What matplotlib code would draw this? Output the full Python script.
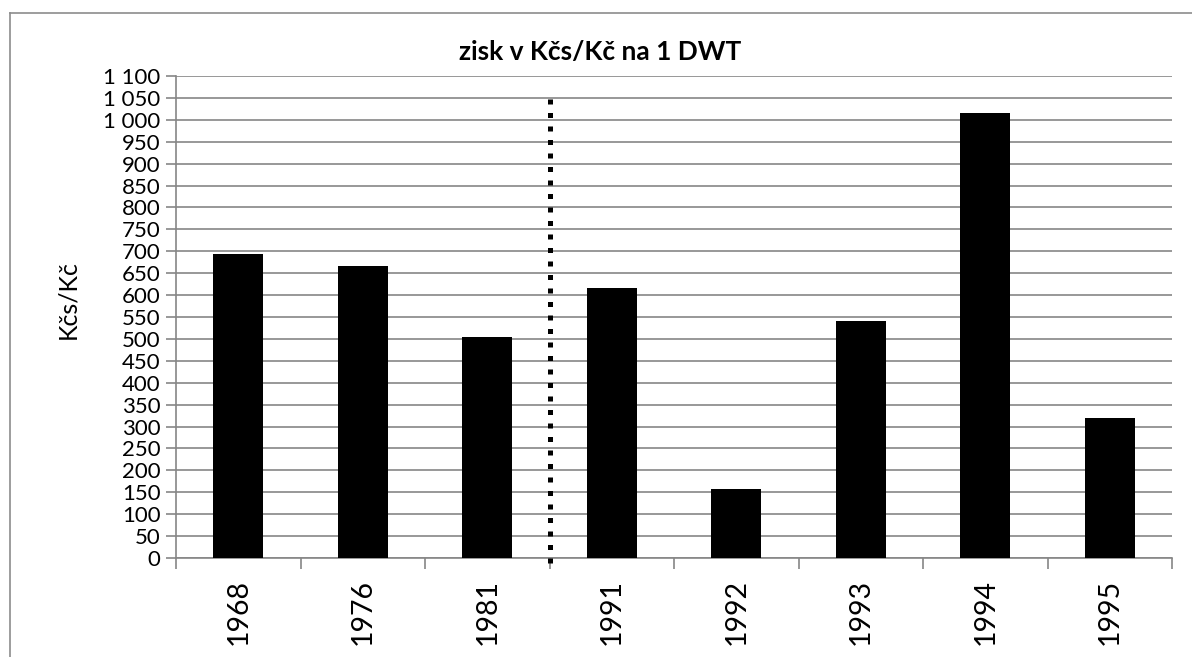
import matplotlib
matplotlib.use("Agg")
import matplotlib.pyplot as plt
from matplotlib.ticker import FuncFormatter
from matplotlib.lines import Line2D

# data
years = ["1968", "1976", "1981", "1991", "1992", "1993", "1994", "1995"]
profit = [694, 666, 504, 616, 157, 541, 1016, 320]
y_ticks = list(range(0, 1101, 50))

title = "zisk v Kčs/Kč na 1 DWT"
y_label = "Kčs/Kč"

plt.rcParams['font.family'] = ['Lato', 'DejaVu Sans']
grey = '#868686'

fig = plt.figure(figsize=(11.92, 6.57), dpi=100)
ax = fig.add_axes([176 / 1192, 1 - 558 / 657, (1172 - 176) / 1192, (558 - 76) / 657])

x = list(range(len(years)))
ax.bar(x, profit, width=0.4, color='black', zorder=3)

ax.set_xlim(-0.5, len(years) - 0.5)
ax.set_ylim(0, 1100)

# y axis: ticks every 50, space as thousands separator
ax.set_yticks(y_ticks)
ax.yaxis.set_major_formatter(FuncFormatter(lambda v, p: f"{int(v):,}".replace(",", " ")))
ax.tick_params(axis='y', direction='out', length=7, width=1.2, color=grey,
               labelsize=16, pad=4)
ax.grid(axis='y', color=grey, linewidth=1.2, zorder=0)

# x axis: labels centred, tick marks between categories
ax.set_xticks(x)
ax.set_xticklabels(years, rotation=90, fontsize=20.5)
ax.tick_params(axis='x', which='major', length=0, pad=15)
ax.set_xticks([i - 0.5 for i in range(len(years) + 1)], minor=True)
ax.tick_params(axis='x', which='minor', direction='out', length=8, width=1.2, color=grey)

for s in ['top', 'right']:
    ax.spines[s].set_visible(False)
for s in ['left', 'bottom']:
    ax.spines[s].set_color(grey)
    ax.spines[s].set_linewidth(1.2)

# dotted separator between 1981 and 1991
ax.plot([2.5, 2.5], [-12, 1060], color='black', linewidth=3.6,
        linestyle=(0, (1.0, 1.7)), dash_capstyle='butt', clip_on=False, zorder=4)

fig.text(68 / 1192, 1 - 300 / 657, y_label, rotation=90, fontsize=18, ha='center', va='center')
fig.text(600 / 1192, 1 - 52 / 657, title, fontsize=19, fontweight='bold', ha='center', va='center')

# chart frame (cropped at right and bottom)
fig.add_artist(Line2D([10 / 1192, 1], [1 - 13 / 657, 1 - 13 / 657], color='#8c8c8c', linewidth=1.2))
fig.add_artist(Line2D([10 / 1192, 10 / 1192], [0, 1 - 13 / 657], color='#8c8c8c', linewidth=1.2))

fig.savefig("out.png", dpi=100)
